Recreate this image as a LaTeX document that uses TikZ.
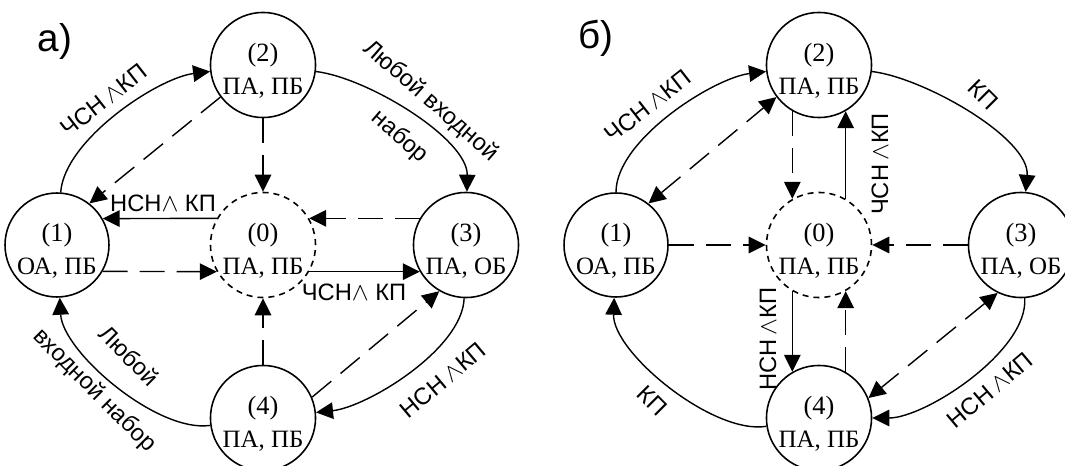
\documentclass[tikz,border=0pt]{standalone}
\usepackage{fontspec}
\setmainfont{Liberation Serif}
\setsansfont{Liberation Sans}
\usetikzlibrary{arrows.meta}
\newcommand{\stn}[1]{\rule{0pt}{17pt}{\fontsize{15}{19}\selectfont(#1)}}

\begin{document}
\begin{tikzpicture}
          [x=0.02cm,y=-0.02cm,
           state/.style={draw, circle, line width=0.9pt, inner sep=0pt, minimum size=2.04cm,
             align=center, font=\fontsize{14.2}{19}\selectfont},
           zero/.style={state, dash pattern=on 1.2mm off 1mm},
           lbl/.style={inner sep=0pt, align=center, font=\sffamily\fontsize{13.5}{27}\selectfont},
           title/.style={font=\sffamily\fontsize{22}{24}\selectfont},
           go/.style={line width=0.8pt, looseness=0.7, -{Triangle[length=3.4mm,width=3.3mm]}},
           dsh/.style={go, dash pattern=on 5mm off 2.4mm},
           twoway/.style={dsh, {Triangle[length=3.4mm,width=3.3mm]}-{Triangle[length=3.4mm,width=3.3mm]}}]
        \useasboundingbox (0,0) rectangle (1065,466);

        % a)
        \node[title] (ta) at (55,41) {а)};
        \node[state] (a1) at (57,245) {\stn{1}\\ОА, ПБ};
        \node[state] (a2) at (263,65) {\stn{2}\\ПА, ПБ};
        \node[zero] (a0) at (263,245) {\stn{0}\\ПА, ПБ};
        \node[state] (a3) at (466,245) {\stn{3}\\ПА, ОБ};
        \node[state] (a4) at (263,418) {\stn{4}\\ПА, ПБ};

        \draw[go] (a1) to[out=86, in=187] (a2);
        \draw[go] (a2) to[out=-7, in=89] (a3);
        \draw[go] (a3) to[out=-92, in=6] (a4);
        \draw[go] (a4) to[out=188, in=-87] (a1);
        \draw[go] (a0.150) -- (a1.30);
        \draw[go] (a0.-30) -- (a3.-150);
        \foreach \from/\to in {a2.217/a1.52, a2/a0, a1.-30/a0.-150, a3.150/a0.30, a4/a0, a4.23/a3.240}
          \draw[dsh] (\from) -- (\to);

        \node[lbl, rotate=38] (l12) at (104,100) {ЧСН\,$\wedge$КП};
        \node[lbl, rotate=-41] (l23) at (415,119) {Любой входной\\набор};
        \node[lbl] (l01) at (163,203) {НСН$\wedge$ КП};
        \node[lbl] (l03) at (354,292) {ЧСН$\wedge$ КП};
        \node[lbl, rotate=-45] (l41) at (111,374) {Любой\\входной набор};
        \node[lbl, rotate=40] (l34) at (443,380) {НСН\,$\wedge$КП};

        % b)
        \node[title] (tb) at (596,38) {б)};
        \node[state] (b1) at (616,245) {\stn{1}\\ОА, ПБ};
        \node[state] (b2) at (819,65) {\stn{2}\\ПА, ПБ};
        \node[zero] (b0) at (819,245) {\stn{0}\\ПА, ПБ};
        \node[state] (b3) at (1021,245) {\stn{3}\\ПА, ОБ};
        \node[state] (b4) at (819,418) {\stn{4}\\ПА, ПБ};

        \draw[go] (b1) to[out=90, in=187] (b2);
        \draw[go] (b2) to[out=-7, in=85] (b3);
        \draw[go] (b3) to[out=-86, in=0] (b4);
        \draw[go] (b4) to[out=189, in=-92] (b1);
        \draw[go] (b0.60) -- (b2.-60);
        \draw[go] (b0.-120) -- (b4.120);
        \foreach \from/\to in {b2.-120/b0.120, b4.60/b0.-60, b1/b0, b3/b0}
          \draw[dsh] (\from) -- (\to);
        \draw[twoway] (b1.52) -- (b2.217);
        \draw[twoway] (b3.244) -- (b4.22);

        \node[lbl, rotate=38] (m12) at (648,106) {ЧСН\,$\wedge$КП};
        \node[lbl, rotate=-45] (m23) at (983,95) {КП};
        \node[lbl, rotate=90] (m02) at (880,164) {ЧСН\,$\wedge$КП};
        \node[lbl, rotate=90] (m04) at (768,339) {НСН\,$\wedge$КП};
        \node[lbl, rotate=40] (m34) at (990,390) {НСН\,$\wedge$КП};
        \node[lbl, rotate=-45] (m41) at (652,401) {КП};
      \end{tikzpicture}
\end{document}
